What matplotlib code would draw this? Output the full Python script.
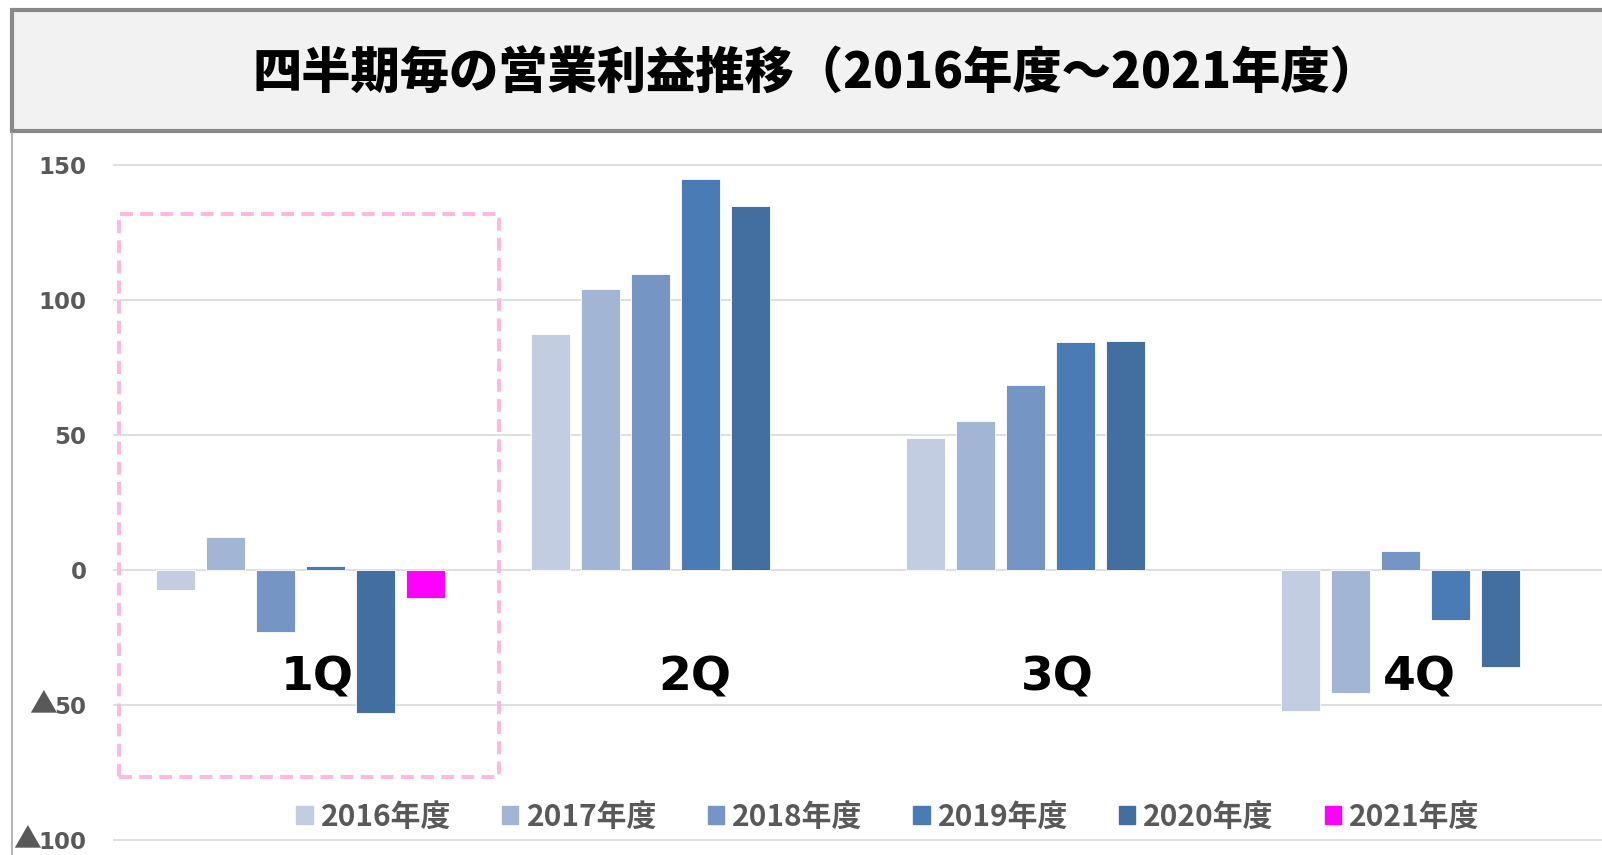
import matplotlib
matplotlib.use("Agg")
import matplotlib.pyplot as plt
import matplotlib.patches as mpatches
import matplotlib.transforms as mtransforms
from matplotlib.lines import Line2D
import numpy as np

# ── data ─────────────────────────────────────────────
quarters = ["1Q", "2Q", "3Q", "4Q"]
years = ["2016年度", "2017年度", "2018年度", "2019年度", "2020年度", "2021年度"]
profit_2016 = [-7.4, 87.4, 48.8, -52.4]
profit_2017 = [12.1, 104.0, 55.2, -45.6]
profit_2018 = [-23.0, 109.7, 68.5, 7.0]
profit_2019 = [1.4, 144.9, 84.3, -18.5]
profit_2020 = [-52.8, 134.7, 84.7, -35.8]
profit_2021 = [-10.4]
yticks = [-100, -50, 0, 50, 100, 150]
title = "四半期毎の営業利益推移（2016年度～2021年度）"

series = [profit_2016, profit_2017, profit_2018, profit_2019, profit_2020, profit_2021]
colors = ["#C3CDE2", "#A3B5D5", "#7595C5", "#4A7BB5", "#426EA0", "#FF00FF"]

CJK = ["Noto Sans CJK JP", "DejaVu Sans"]
GRAY = "#595959"

W, H = 1602, 855
fig = plt.figure(figsize=(W / 100, H / 100), dpi=100)

# plot area: left edge at 113px, top at 140px
ax = fig.add_axes([113 / W, 0, 1 - 113 / W, (H - 140) / H])
ax.set_xlim(-0.5, 3.5 - 11 / 375)
ax.set_ylim((570 - 855) / 2.7, (570 - 140) / 2.7)

slot = 50 / 375
bar_w = 39 / 375
for i, (vals, c) in enumerate(zip(series, colors)):
    x = np.arange(len(vals)) + (i - 2.5) * slot
    ax.bar(x, vals, width=bar_w, color=c, edgecolor="white", linewidth=0.6,
           zorder=3, label=years[i])

# y ticks: digits in DejaVu bold, the ▲ (negative sign) drawn in the CJK font
TICK_FS = 16.5
ax.set_yticks(yticks)
ax.set_yticklabels([str(abs(v)) for v in yticks], family="DejaVu Sans",
                   fontweight="bold", fontsize=TICK_FS, color=GRAY)
ax.tick_params(axis="y", length=0, pad=19)
digit_px = 0.696 * TICK_FS * 100 / 72
label_right = 113 - 19 * 100 / 72
trans = mtransforms.blended_transform_factory(fig.transFigure, ax.transData)
for v in yticks:
    if v < 0:
        x_px = label_right - digit_px * len(str(abs(v))) + 2
        ax.text(x_px / W, v, "▲", transform=trans,
                ha="right", va="center", fontsize=20, color=GRAY,
                family=CJK, clip_on=False)
ax.set_xticks([])
ax.grid(axis="y", color="#D9D9D9", linewidth=1.2, zorder=0)
for s in ax.spines.values():
    s.set_visible(False)

# quarter labels inside the plot
q_offsets = [0.044, 0.052, 0.017, -0.015]
for k, q in enumerate(quarters):
    ax.text(k + q_offsets[k], -40, q, ha="center", va="center",
            fontsize=34, fontweight="bold", color="black",
            family="DejaVu Sans", zorder=5)

# pink dashed highlight box around 1Q
box = mpatches.Rectangle((-0.483, -76.5), 0.528 + 0.483, 131.7 + 76.5,
                         fill=False, edgecolor="#FFB9DF", linewidth=2.9,
                         linestyle=(0, (3.2, 1.8)), zorder=4, clip_on=False)
ax.add_patch(box)

# legend
handles = [mpatches.Patch(color=c, label=y) for c, y in zip(colors, years)]
fig.legend(handles=handles, loc="center", bbox_to_anchor=(888 / W, 1 - 817 / H),
           ncol=6, frameon=False, handlelength=0.55, handleheight=0.55,
           handletextpad=0.27, columnspacing=1.70,
           prop={"family": CJK, "weight": "bold", "size": 21.5},
           labelcolor=GRAY)

# title box
tbox = mpatches.Rectangle((12 / W, 1 - 131 / H), 1.0, 121 / H,
                          transform=fig.transFigure, facecolor="#F2F2F2",
                          edgecolor="#898989", linewidth=3, clip_on=False)
fig.patches.append(tbox)
fig.add_artist(Line2D([12 / W, 12 / W], [0, 1 - 133 / H], color="#A6A6A6",
                      linewidth=1.2, transform=fig.transFigure))
fig.text(816 / W, 1 - 74 / H, title, ha="center", va="center",
         fontsize=35.5, fontweight="black", family=CJK, color="black")

fig.savefig("out.png", dpi=100)
